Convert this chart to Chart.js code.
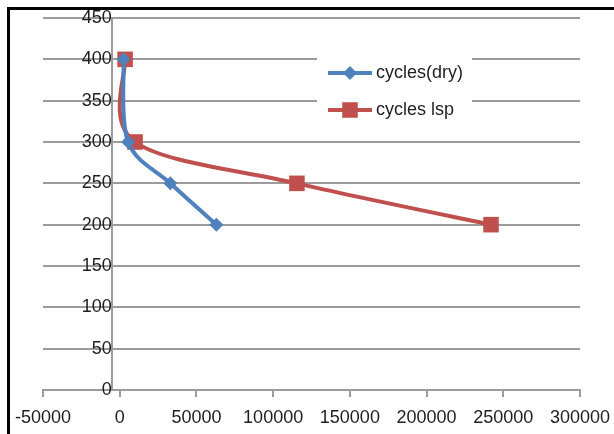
<!DOCTYPE html>
<html>
<head>
<meta charset="utf-8">
<script src="https://cdn.jsdelivr.net/npm/chart.js@4.4.0/dist/chart.umd.min.js"></script>
<style>
  html, body { margin: 0; padding: 0; background: #fff; }
  canvas { display: block; }
</style>
</head>
<body>
<canvas id="chart" width="614" height="434"></canvas>
<script>
// data
const seriesNames = ['cycles(dry)', 'cycles lsp'];
const depth = [400, 300, 250, 200];
const cyclesDry = [2500, 5500, 33000, 63000];
const cyclesLsp = [3500, 10000, 115500, 242000];
const xTicks = [-50000, 0, 50000, 100000, 150000, 200000, 250000, 300000];
const yTicks = [0, 50, 100, 150, 200, 250, 300, 350, 400, 450];
const yAxisCrossAt = -5200;

const blue = '#4F81BD';
const red = '#C0504D';
const gridGrey = '#9c9c9c';
const textColor = '#1e1e1e';
const font = { family: 'Liberation Sans', size: 18 };

const toPoints = (xs) => xs.map((x, i) => ({ x: x, y: depth[i] }));

// the label overflow padding would push the plot area in, drop it
const noScalePadding = (scale) => {
	scale.paddingTop = 0;
	scale.paddingBottom = 0;
	scale.paddingLeft = 0;
	scale.paddingRight = 0;
};

// black frame on top and left, like the cropped screenshot
const frame = {
	id: 'frame',
	beforeDraw(chart) {
		const ctx = chart.ctx;
		ctx.save();
		ctx.fillStyle = '#fff';
		ctx.fillRect(0, 0, chart.width, chart.height);
		ctx.fillStyle = '#000';
		ctx.fillRect(7, 7, chart.width - 7, 3);
		ctx.fillRect(7, 7, 3, chart.height - 7);
		ctx.restore();
	}
};

// Excel style smoothing: control points at 1/6 of the neighbour chord
const excelSmooth = {
	id: 'excelSmooth',
	beforeDatasetDraw(chart, args) {
		const meta = args.meta;
		if (!meta.dataset) return;
		const pts = meta.data;
		for (let i = 0; i < pts.length; i++) {
			const prev = pts[Math.max(i - 1, 0)];
			const next = pts[Math.min(i + 1, pts.length - 1)];
			const dx = (next.x - prev.x) / 6;
			const dy = (next.y - prev.y) / 6;
			pts[i].cp1x = pts[i].x - dx;
			pts[i].cp1y = pts[i].y - dy;
			pts[i].cp2x = pts[i].x + dx;
			pts[i].cp2y = pts[i].y + dy;
		}
		meta.dataset._pointsUpdated = true;
	}
};

// legend sits inside the plot, on a white box
const insideLegend = {
	id: 'insideLegend',
	afterDraw(chart) {
		const ctx = chart.ctx;
		ctx.save();
		ctx.fillStyle = '#fff';
		ctx.fillRect(317, 46, 155, 80);
		chart.data.datasets.forEach((ds, i) => {
			const y = 73 + i * 37;
			ctx.strokeStyle = ds.borderColor;
			ctx.lineWidth = 4;
			ctx.beginPath();
			ctx.moveTo(328, y);
			ctx.lineTo(372, y);
			ctx.stroke();
			ctx.fillStyle = ds.backgroundColor;
			Chart.helpers.drawPoint(ctx, {
				pointStyle: ds.pointStyle,
				radius: ds.pointRadius,
				rotation: 0,
				borderWidth: 0
			}, 350, y);
			ctx.fillStyle = textColor;
			ctx.font = font.size + 'px "' + font.family + '"';
			ctx.textAlign = 'left';
			ctx.textBaseline = 'middle';
			ctx.fillText(ds.label, 376, y);
		});
		ctx.restore();
	}
};

new Chart(document.getElementById('chart').getContext('2d'), {
	type: 'scatter',
	data: {
		datasets: [
			{
				label: seriesNames[0],
				data: toPoints(cyclesDry),
				showLine: true,
				tension: 0.4,
				borderColor: blue,
				backgroundColor: blue,
				borderWidth: 4,
				pointStyle: 'rectRot',
				pointRadius: 7,
				pointBorderWidth: 0,
			},
			{
				label: seriesNames[1],
				data: toPoints(cyclesLsp),
				showLine: true,
				tension: 0.4,
				borderColor: red,
				backgroundColor: red,
				borderWidth: 4,
				pointStyle: 'rect',
				pointRadius: 11,
				pointBorderWidth: 0,
			},
		],
	},
	options: {
		responsive: false,
		animation: false,
		layout: { padding: { left: 43, right: 34, top: 18, bottom: 0 } },
		plugins: {
			legend: { display: false },
			tooltip: { enabled: false },
		},
		scales: {
			x: {
				type: 'linear',
				position: 'bottom',
				min: xTicks[0],
				max: xTicks[xTicks.length - 1],
				afterBuildTicks(scale) {
					scale.ticks = xTicks.map(v => ({ value: v }));
				},
				afterFit(scale) {
					scale.height = 44;
					noScalePadding(scale);
				},
				ticks: {
					color: textColor,
					font: font,
					padding: 10,
					maxRotation: 0,
					autoSkip: false,
					callback: v => String(v),
				},
				grid: {
					drawOnChartArea: false,
					drawTicks: true,
					tickLength: 7,
					color: gridGrey,
					lineWidth: 2,
				},
				border: { display: true, color: gridGrey, width: 2 },
			},
			y: {
				type: 'linear',
				position: { x: yAxisCrossAt },
				min: yTicks[0],
				max: yTicks[yTicks.length - 1],
				afterBuildTicks(scale) {
					scale.ticks = yTicks.map(v => ({ value: v }));
				},
				afterFit: noScalePadding,
				ticks: {
					color: textColor,
					font: font,
					padding: 19,
					callback: v => String(v),
				},
				grid: {
					drawTicks: false,
					color: gridGrey,
					lineWidth: 2,
				},
				border: { display: true, color: gridGrey, width: 2 },
			},
		},
	},
	plugins: [frame, excelSmooth, insideLegend],
});
</script>
</body>
</html>
